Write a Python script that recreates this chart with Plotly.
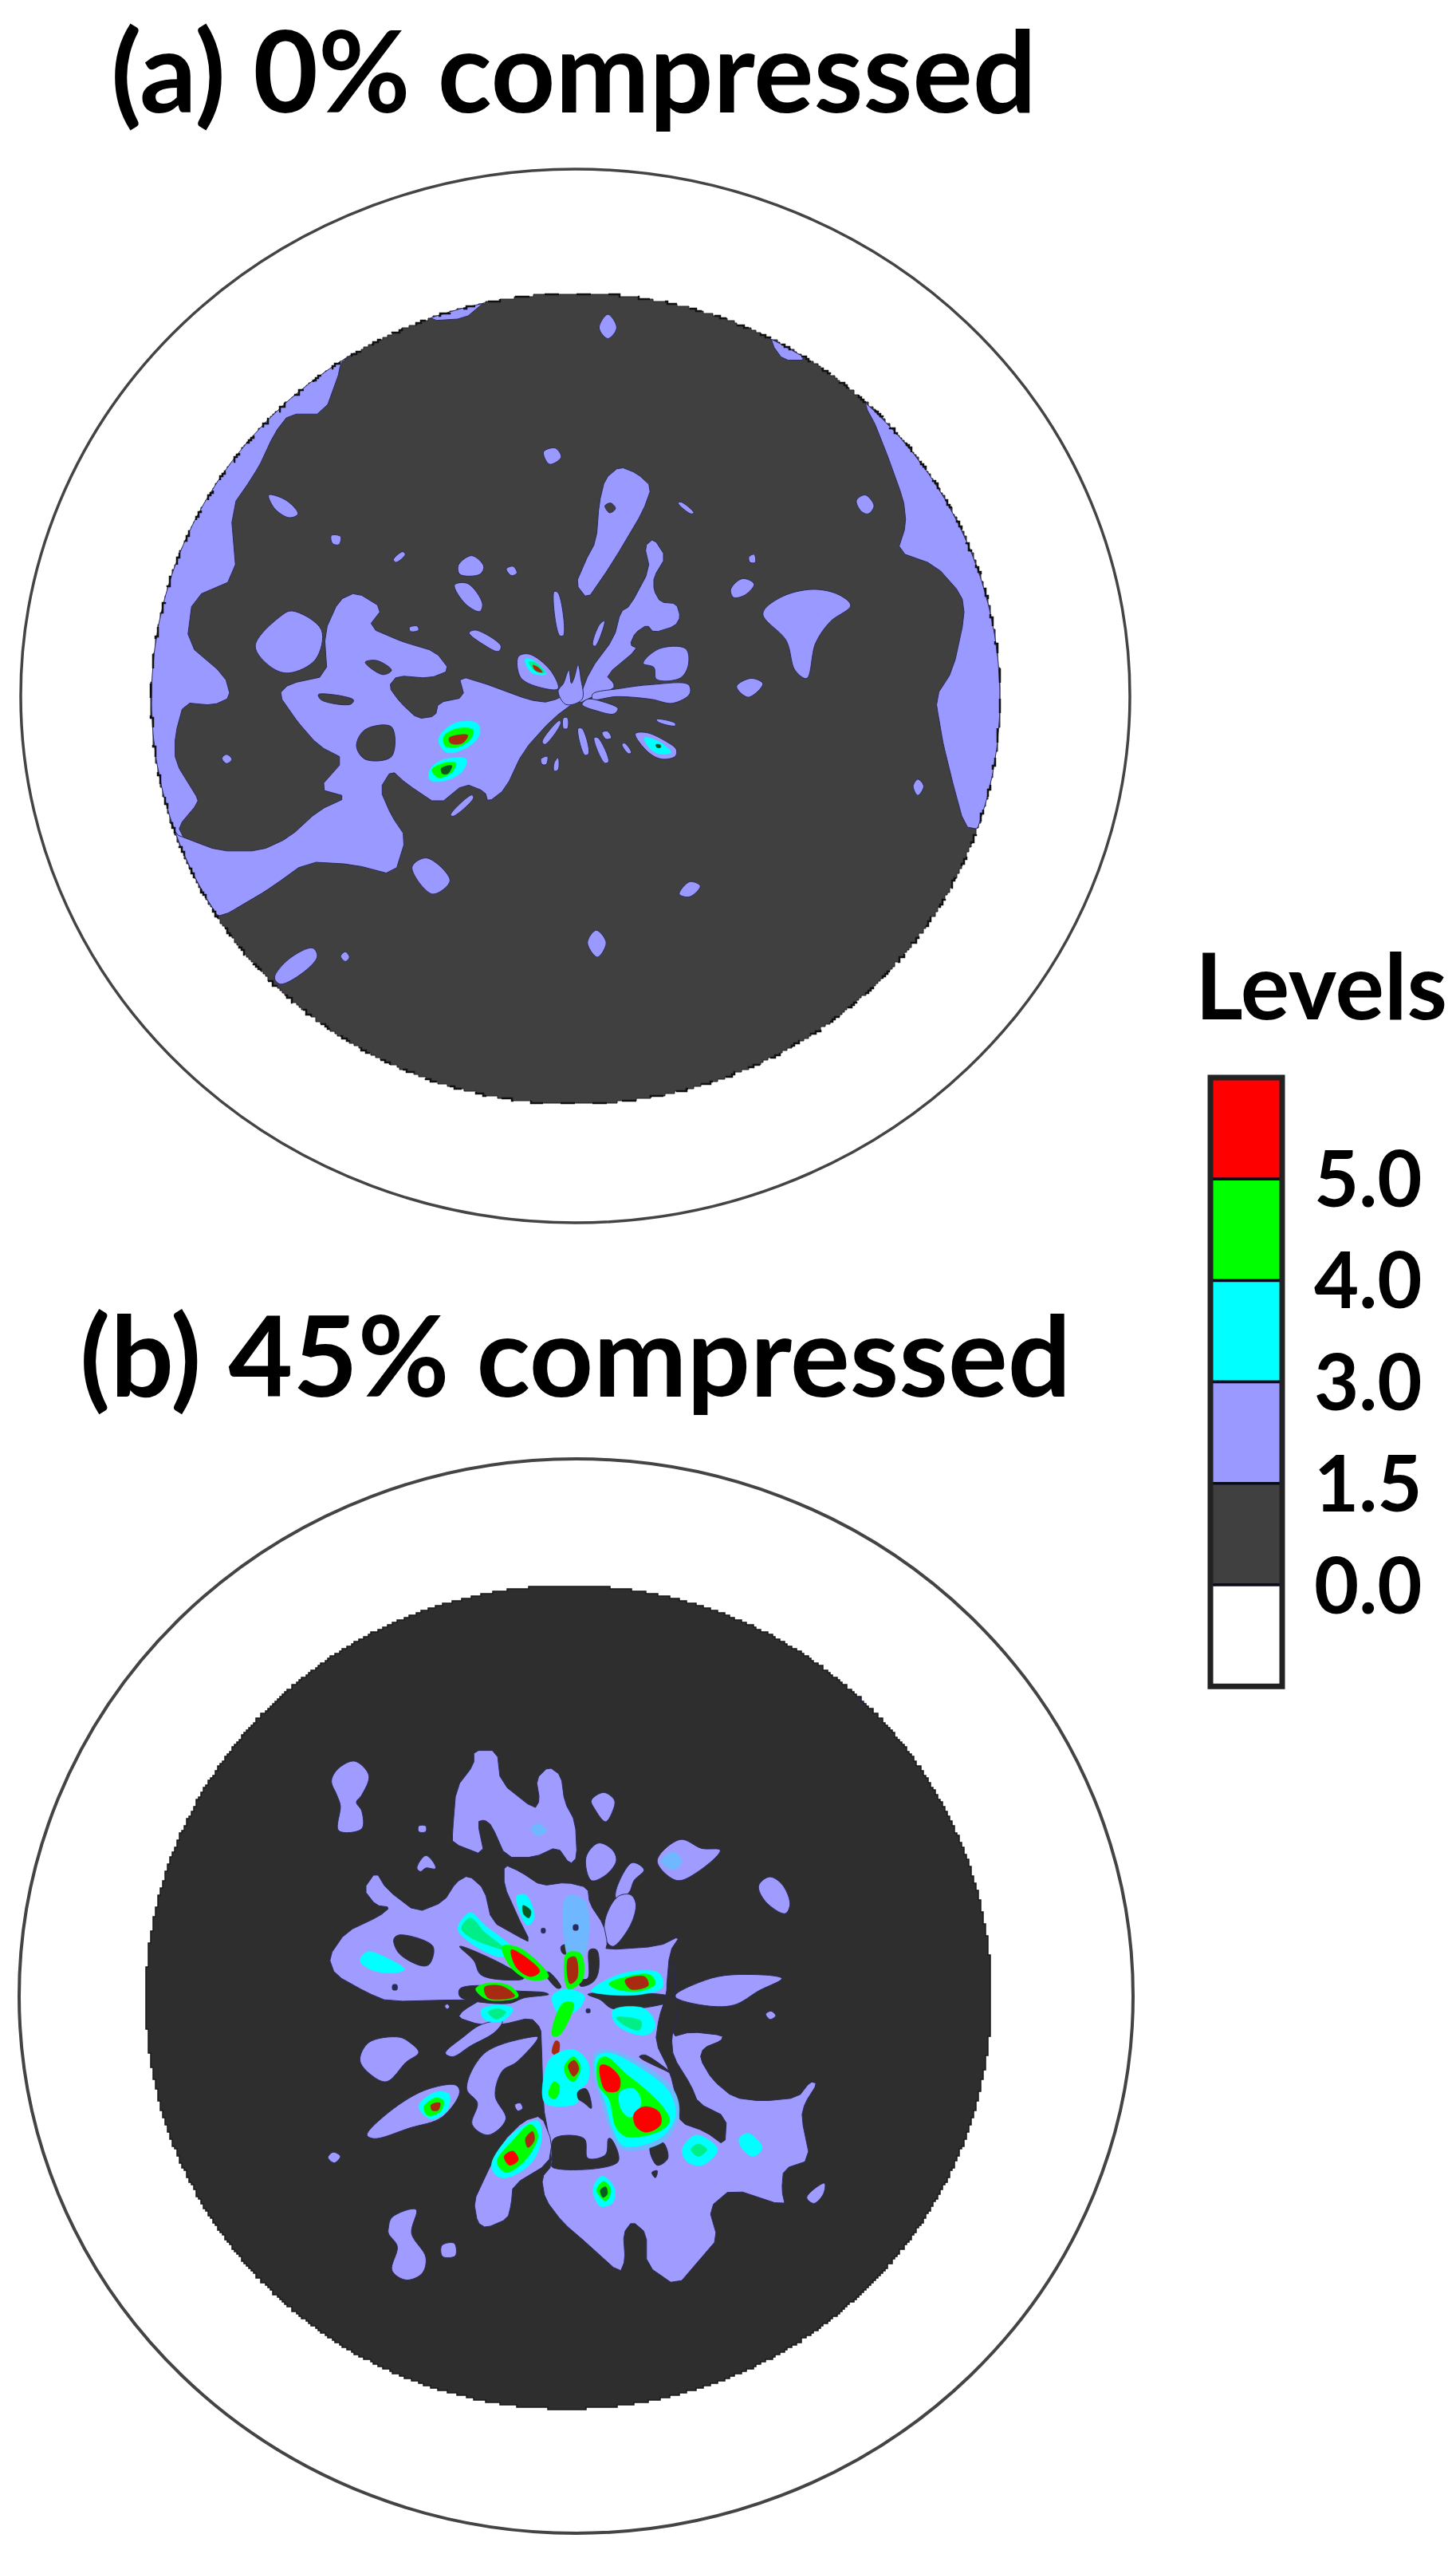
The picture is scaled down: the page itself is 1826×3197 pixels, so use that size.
import math
import plotly.graph_objects as go

# ---------- legend ----------
LEVEL_LABELS = ["5.0", "4.0", "3.0", "1.5", "0.0"]
LEVEL_COLORS = ["#FF0000", "#00FF00", "#00FFFF", "#9999FF", "#404040", "#FFFFFF"]
TITLE_A = "(a) 0% compressed"
TITLE_B = "(b) 45% compressed"
LEGEND_TITLE = "Levels"

LAV = "#9999FF"
LAVB = "#A09CFF"
DARK_A = "#404040"
DARK_B = "#2E2E2E"
CYAN = "#00FFFF"
GREEN = "#00FF00"
SEA = "#00EE88"
RED = "#FF0000"
DRED = "#A82A10"
DGREEN = "#0A5A20"
SOFT = "#6FB8FF"
NAVY = "#2B2B5A"

# ---------- panel (a): contour outlines ----------
A_LAV_1 = [
    [(380,175),(350,265),(290,265),(265,300),(235,370),(190,440),(200,570),(125,605),(115,690),(180,750),(190,790),(160,805),(110,800),(95,860),(95,910),(130,970),(135,985),(100,1030),(110,1050),(170,1200),(100,1200),(-50,1100),(-50,400),(100,150),(380,100)],
    [(790,770),(735,800),(700,795),(640,770),(580,750),(590,790),(545,800),(540,825),(510,830),(480,800),(460,770),(475,750),(530,755),(565,740),(540,705),(490,690),(425,660),(450,625),(405,595),(375,610),(350,670),(355,750),(290,765),(272,785),(300,830),(340,880),(385,905),(340,960),(390,975),(340,1000),(290,1050),(240,1075),(170,1075),(110,1050),(60,1030),(100,1200),(170,1200),(250,1150),(320,1095),(400,1100),(470,1120),(490,1050),(465,1010),(445,960),(465,925),(490,950),(545,990),(590,950),(625,965),(630,985),(660,960),(690,890),(740,830),(790,790)],
    [(530,92),(590,88),(620,62),(620,20),(530,40)],
    [(1115,135),(1135,165),(1175,165),(1170,100),(1115,100)],
    [(1275,250),(1295,290),(1340,420),(1345,470),(1330,520),(1395,545),(1440,600),(1445,640),(1425,740),(1395,790),(1405,860),(1420,930),(1445,1030),(1470,1035),(1600,1030),(1650,700),(1500,300),(1290,200)],
    [(835,80),(850,105),(835,125),(820,105)],
    [(725,335),(745,328),(755,345),(735,358)],
    [(255,415),(285,425),(305,450),(290,457),(265,440)],
    [(362,490),(378,492),(375,507),(364,505)],
    [(855,362),(885,375),(910,400),(895,445),(860,510),(825,570),(800,608),(780,580),(795,540),(815,500),(820,430),(830,385)],
    [(1100,635),(1130,605),(1185,590),(1230,600),(1250,620),(1215,650),(1190,690),(1175,755),(1155,740),(1140,685)],
    [(1045,590),(1065,570),(1085,580),(1070,600),(1050,605)],
    [(1055,770),(1080,755),(1100,765),(1075,790)],
    [(1076,530),(1085,525),(1087,540),(1078,540)],
    [(955,430),(960,428),(982,448),(977,450)],
    [(1260,425),(1275,415),(1290,435),(1280,450),(1268,445)],
    [(1357,955),(1365,942),(1375,955),(1365,972)],
    [(957,1155),(975,1132),(993,1140),(975,1160)],
    [(800,1245),(815,1222),(832,1245),(817,1272)],
    [(500,1105),(525,1088),(565,1130),(535,1155)],
    [(378,1270),(386,1262),(393,1272),(386,1280)],
    [(265,1310),(290,1275),(330,1255),(338,1270),(320,1295),(275,1322)],
    [(175,903),(183,896),(192,905),(183,913)],
    [(232,695),(275,640),(295,630),(345,665),(335,720),(290,745),(260,735)],
]
A_DARK_1 = [
    [(405,880),(420,850),(465,845),(465,900),(420,905)],
    [(420,725),(440,722),(465,740),(450,748)],
    [(340,785),(400,795),(395,803),(345,795)],
    [(830,435),(840,430),(848,440),(838,448)],
]
A_LAV_4 = [
    [(415,430),(440,420),(535,480),(525,500),(470,475)],
    [(360,250),(410,245),(465,320),(455,350),(400,320)],
    [(375,175),(425,140),(470,180),(455,210),(380,210)],
    [(555,190),(580,180),(595,205),(575,215)],
    [(130,155),(165,125),(175,135),(140,165)],
    [(190,410),(220,405),(225,420),(195,425)],
    [(735,275),(750,280),(770,440),(755,440)],
    [(905,400),(925,385),(890,480),(880,475)],
    [(600,520),(640,510),(720,570),(750,640),(700,640),(610,600)],
    [(825,790),(840,790),(865,885),(850,890)],
    [(885,825),(900,825),(940,915),(925,920)],
    [(915,805),(935,800),(950,825),(930,830)],
    [(990,850),(1000,845),(1025,880),(1015,885)],
    [(685,905),(710,895),(705,925),(690,925)],
    [(735,920),(750,900),(750,945),(735,950)],
    [(690,840),(755,760),(760,770),(700,850)],
    [(345,1115),(425,1040),(432,1050),(355,1120)],
    [(1120,755),(1190,770),(1190,780),(1125,765)],
    [(770,750),(785,750),(785,790),(770,790)],
    [(1040,810),(1080,805),(1150,835),(1195,870),(1190,895),(1140,905),(1090,880)],
    [(820,700),(870,570),(960,450),(985,350),(1020,330),(1095,190),(1075,105),(1110,75),(1155,145),(1110,220),(1110,270),(1135,315),(1195,320),(1210,370),(1190,405),(1110,430),(1085,400),(1040,430),(1020,475),(1050,490),(930,590),(960,620),(960,640),(880,670)],
    [(1070,545),(1130,490),(1230,490),(1240,550),(1210,600),(1120,605),(1110,560)],
    [(880,660),(980,640),(1100,625),(1240,625),(1245,660),(1180,695),(1100,680),(970,670),(880,680)],
    [(860,680),(920,690),(975,715),(960,735),(900,725),(840,700)],
    [(750,650),(770,620),(790,570),(800,620),(810,600),(825,550),(835,600),(840,680),(780,700)],
]
A_SPOTS_4 = [
    (CYAN, [(300,830),(360,770),(445,770),(455,810),(410,860),(330,880)]),
    (GREEN, [(320,820),(370,790),(430,795),(420,830),(370,860),(325,855)]),
    (DRED, [(340,825),(410,815),(390,845),(345,845)]),
    (CYAN, [(265,950),(310,910),(405,905),(390,950),(330,985),(270,985)]),
    (GREEN, [(275,945),(320,920),(365,920),(350,955),(300,975)]),
    (DGREEN, [(310,940),(350,930),(335,960),(315,960)]),
    (CYAN, [(1075,825),(1130,840),(1175,880),(1130,885),(1090,860)]),
    (DGREEN, [(1118,850),(1135,852),(1135,862),(1120,860)]),
    (CYAN, [(625,530),(650,530),(705,585),(650,580)]),
    (SEA, [(640,540),(660,540),(700,580),(665,575)]),
    (DRED, [(655,552),(675,560),(690,578),(665,572)]),
]

# ---------- panel (b): contour outlines ----------
B_LAV_2 = [
    [(80,185),(100,150),(145,130),(185,170),(165,225),(150,245),(165,270),(165,320),(100,325),(105,255),(95,225)],
    [(420,330),(430,205),(480,140),(480,100),(545,100),(555,190),(650,265),(665,240),(655,180),(690,145),(725,170),(735,245),(765,300),(770,400),(750,420),(715,370),(650,400),(570,400),(530,310),(510,295),(490,300),(510,395),(420,360)],
    [(810,240),(845,218),(875,240),(870,270),(850,300),(820,265)],
    [(325,312),(345,312),(345,328),(325,328)],
    [(320,430),(345,395),(370,420),(372,432),(345,430),(330,440)],
    [(795,400),(830,360),(870,380),(880,410),(850,450),(810,465)],
    [(880,490),(925,415),(958,435),(930,465),(915,500),(880,515)],
    [(850,570),(885,510),(920,505),(935,530),(920,590),(870,650),(850,630)],
    [(995,410),(1060,350),(1120,375),(1172,380),(1110,440),(1050,465)],
    [(1280,480),(1310,455),(1345,475),(1368,530),(1355,558),(1300,525)],
    [(72,680),(120,610),(215,565),(245,540),(205,535),(170,490),(205,440),(235,490),(320,555),(395,525),(430,470),(465,450),(510,490),(530,580),(600,620),(640,640),(600,560),(565,480),(565,420),(610,440),(670,480),(740,470),(800,485),(805,530),(845,590),(855,640),(850,660),(1000,650),(1060,620),(1030,665),(1020,780),(1035,905),(1090,890),(1180,900),(1175,915),(1125,935),(1115,965),(1150,1025),(1210,1075),(1290,1085),(1390,1075),(1425,1030),(1445,1035),(1410,1090),(1400,1130),(1425,1250),(1350,1275),(1345,1335),(1355,1380),(1205,1330),(1140,1385),(1165,1471),(1120,1523),(1050,1605),(965,1546),(965,1456),(925,1422),(900,1456),(905,1531),(890,1568),(800,1486),(730,1426),(680,1360),(670,1300),(700,1265),(690,1180),(675,1100),(670,920),(668,880),(640,850),(560,870),(495,870),(435,850),(450,830),(500,800),(440,800),(240,805),(180,780),(90,730)],
    [(400,950),(450,905),(500,870),(560,860),(540,890),(470,930),(420,960)],
    [(510,950),(640,905),(660,905),(600,975),(560,1000),(540,1070),(570,1135),(520,1180),(475,1150),(490,1090),(460,1050)],
    [(480,1366),(510,1300),(560,1200),(620,1140),(670,1125),(700,1200),(690,1260),(590,1320),(585,1374),(575,1415),(515,1441),(490,1426)],
    [(1045,790),(1130,745),(1205,730),(1345,740),(1280,775),(1210,815),(1120,815)],
    [(1300,840),(1315,832),(1328,845),(1312,855)],
    [(398,818),(405,812),(412,820),(405,826)],
    [(595,1095),(610,1090),(617,1105),(603,1112)],
    [(160,970),(185,920),(270,905),(300,920),(325,948),(290,975),(235,1030),(190,1010)],
    [(180,1180),(230,1125),(340,1055),(430,1040),(440,1060),(390,1130),(300,1160),(200,1190)],
    [(70,1243),(85,1228),(105,1240),(88,1258)],
    [(390,1490),(425,1484),(428,1519),(392,1521)],
    [(240,1441),(250,1411),(318,1389),(305,1456),(345,1523),(335,1568),(290,1587),(250,1560),(265,1493),(240,1456)],
    [(1415,1355),(1465,1315),(1462,1345),(1435,1372)],
    [(1770,-250),(1790,-290),(1800,-250),(1790,-230)],
    [(1570,-60),(1590,-90),(1600,-60),(1585,-40)],
]
B_DARK_2 = [
    [(255,630),(270,618),(365,650),(355,700),(335,705),(270,670)],
    [(440,650),(560,700),(620,740),(590,745),(500,730),(480,690)],
    [(440,770),(490,760),(600,775),(680,780),(690,785),(620,795),(580,810),(460,800),(440,790)],
    [(680,725),(690,722),(725,765),(715,768)],
    [(725,650),(750,645),(755,670),(730,670)],
    [(775,745),(800,740),(805,660),(825,660),(830,720),(815,750),(780,762)],
    [(800,785),(850,780),(1030,790),(1040,800),(1000,815),(870,825),(835,800)],
    [(1030,700),(1045,700),(1045,790),(1050,860),(1035,905),(1040,960),(1090,1040),(1110,1090),(1190,1130),(1185,1210),(1130,1170),(1060,1145),(1055,1100),(1030,1000),(990,920),(1000,850),(1020,790)],
    [(945,960),(960,955),(1040,1010),(1020,1000)],
    [(770,1060),(795,1050),(810,1105),(790,1090),(770,1075)],
    [(705,1190),(790,1190),(800,1245),(850,1235),(858,1190),(865,1190),(885,1255),(700,1270),(700,1250)],
    [(975,1215),(1010,1200),(1025,1245),(995,1265)],
    [(980,1285),(995,1280),(990,1300)],
]
B_SPOTS_2 = [
    (SOFT, [(740,510),(790,520),(800,640),(760,720),(735,640)]),
    (SOFT, [(640,320),(660,305),(685,325),(660,340)]),
    (SOFT, [(1005,410),(1040,385),(1065,410),(1040,435)]),
    (CYAN, [(160,690),(180,665),(230,680),(285,715),(250,725),(190,715)]),
    (CYAN, [(600,510),(625,505),(650,570),(630,590)]),
    (DGREEN, [(618,535),(640,550),(635,570),(620,560)]),
    (CYAN, [(435,600),(470,555),(510,590),(590,660),(560,680),(470,640)]),
    (SEA, [(445,600),(470,570),(510,610),(570,660),(530,650),(470,625)]),
    (GREEN, [(560,650),(610,655),(690,735),(640,745),(585,710)]),
    (RED, [(585,660),(610,670),(665,720),(640,735),(600,710)]),
    (CYAN, [(700,790),(740,770),(790,790),(770,830),(720,840)]),
    (GREEN, [(740,670),(780,670),(785,745),(745,770)]),
    (DRED, [(745,685),(765,680),(770,740),(750,755)]),
    (CYAN, [(810,775),(900,725),(1000,725),(1010,765),(950,785),(850,785)]),
    (GREEN, [(860,755),(910,735),(975,730),(990,755),(950,775),(880,770)]),
    (DRED, [(905,745),(960,735),(970,760),(920,770)]),
    (GREEN, [(485,770),(510,755),(580,760),(605,790),(520,800)]),
    (DRED, [(510,765),(560,762),(595,790),(520,795)]),
    (CYAN, [(500,830),(540,815),(590,825),(560,860),(510,855)]),
    (SEA, [(520,835),(545,825),(570,835),(545,855)]),
    (CYAN, [(870,830),(960,825),(990,875),(960,900),(880,870)]),
    (SEA, [(880,850),(950,860),(945,885),(900,870)]),
    (GREEN, [(730,810),(760,810),(720,900),(700,900)]),
    (DRED, [(700,950),(710,915),(720,920),(715,955)]),
    (CYAN, [(680,1000),(700,960),(760,940),(800,975),(800,1030),(770,1060),(770,1090),(680,1090)]),
    (GREEN, [(735,985),(760,960),(780,990),(760,1030),(740,1015)]),
    (DRED, [(745,985),(762,970),(775,995),(760,1015)]),
    (GREEN, [(690,1060),(705,1030),(720,1040),(712,1075),(695,1075)]),
    (SOFT, [(820,950),(860,940),(970,990),(1045,1060),(1055,1130),(1010,1200),(895,1220),(860,1160),(840,1090),(818,1020)]),
    (CYAN, [(825,960),(860,950),(960,1000),(1030,1060),(1045,1130),(1000,1190),(900,1210),(870,1160),(850,1090),(825,1020)]),
    (GREEN, [(830,970),(850,960),(910,1010),(960,1050),(1010,1100),(1030,1140),(1000,1170),(910,1185),(880,1160),(860,1080),(830,1040)]),
    (CYAN, [(890,1060),(930,1050),(950,1090),(920,1130),(895,1110)]),
    (RED, [(835,985),(855,985),(890,1020),(885,1055),(850,1055)]),
    (RED, [(930,1120),(960,1100),(1000,1115),(1005,1150),(965,1172),(935,1155)]),
    (CYAN, [(325,1100),(370,1060),(410,1065),(405,1110),(360,1135)]),
    (GREEN, [(340,1100),(375,1075),(395,1085),(385,1115),(350,1125)]),
    (DRED, [(360,1095),(385,1090),(380,1110),(362,1110)]),
    (CYAN, [(530,1260),(590,1175),(660,1140),(670,1190),(640,1260),(570,1300),(540,1290)]),
    (GREEN, [(545,1255),(590,1195),(640,1150),(660,1180),(625,1250),(570,1285)]),
    (RED, [(565,1240),(590,1225),(605,1250),(580,1265)]),
    (DRED, [(625,1190),(645,1170),(650,1195),(632,1215)]),
    (CYAN, [(815,1330),(840,1295),(875,1330),(870,1370),(835,1380)]),
    (GREEN, [(825,1335),(845,1310),(865,1335),(850,1365)]),
    (DGREEN, [(835,1335),(850,1325),(855,1345),(843,1355)]),
    (CYAN, [(1065,1220),(1105,1180),(1165,1220),(1120,1265),(1080,1255)]),
    (SEA, [(1090,1220),(1110,1205),(1135,1220),(1110,1240)]),
    (CYAN, [(1225,1190),(1250,1175),(1290,1215),(1265,1240),(1235,1220)]),
    (NAVY, [(670,600),(680,600),(680,612),(670,612)]),
    (NAVY, [(760,590),(772,590),(772,604),(760,604)]),
    (NAVY, [(796,826),(806,826),(806,836),(796,836)]),
    (NAVY, [(252,758),(264,758),(264,772),(252,772)]),
]

# ---------- geometry of the two pole figures (page pixels) ----------
OUTER_A = (721.5, 872.5, 695.5, 660.5)
DISK_A = (722.0, 876.0, 532.0, 508.0)
OUTER_B = (722.5, 2502.5, 698.5, 673.5)
DISK_B = (713.0, 2504.0, 530.0, 516.0)


def frame(x0, y0, sx, sy):
    return lambda pts: [(x0 + x / sx, y0 + y / sy) for x, y in pts]


F1 = frame(150, 340, 1.3635, 1.479)
F4 = frame(450, 650, 3.0, 3.0)
F2 = frame(380, 2150, 2.24, 2.24)


def chaikin(pts, n=1):
    for _ in range(n):
        out = []
        for (a, b), (c, d) in zip(pts, pts[1:] + pts[:1]):
            out.append((0.8 * a + 0.2 * c, 0.8 * b + 0.2 * d))
            out.append((0.2 * a + 0.8 * c, 0.2 * b + 0.8 * d))
        pts = out
    return pts


def outside(pts, disk):
    cx, cy, rx, ry = disk
    return any(((x - cx) / rx) ** 2 + ((y - cy) / ry) ** 2 > 1 for x, y in pts)


def clamp(pts, disk):
    cx, cy, rx, ry = disk
    dense = []
    for (a, b), (c, d) in zip(pts, pts[1:] + pts[:1]):
        n = max(1, int(math.hypot(c - a, d - b) / 8))
        for i in range(n):
            dense.append((a + (c - a) * i / n, b + (d - b) * i / n))
    out = []
    for x, y in dense:
        r = math.hypot((x - cx) / rx, (y - cy) / ry)
        if r > 1:
            x, y = cx + (x - cx) / r, cy + (y - cy) / r
        out.append((x, y))
    return out


fig = go.Figure()


def poly(pts, color, outline=None, disk=None):
    if len(pts) >= 12 or (disk and outside(pts, disk)):
        pts = chaikin(list(pts), 1)
        shape = "linear"
    else:
        shape = "spline"
    if disk and outside(pts, disk):
        pts = clamp(pts, disk)
    pts = list(pts) + [pts[0]]
    fig.add_trace(go.Scatter(
        x=[p[0] for p in pts], y=[p[1] for p in pts], mode="lines", fill="toself",
        fillcolor=color, hoverinfo="skip", showlegend=False,
        line=dict(color=outline or color, width=1.0 if outline else 0.5, shape=shape, smoothing=1.0),
    ))


for p in A_LAV_1:
    poly(F1(p), LAV, NAVY, DISK_A)
for p in A_DARK_1:
    poly(F1(p), DARK_A, NAVY)
for p in A_LAV_4:
    poly(F4(p), LAV, NAVY)
for color, p in A_SPOTS_4:
    poly(F4(p), color)

for p in B_LAV_2:
    poly(F2(p), LAVB, NAVY, DISK_B)
for p in B_DARK_2:
    poly(F2(p), DARK_B, NAVY)
for color, p in B_SPOTS_2:
    poly(F2(p), color)


def stair_path(e, step):
    """Ellipse outline snapped to a coarse raster, as the stepped rim of the plotted disk."""
    cx, cy, rx, ry = e
    pts = []
    n = int(2 * math.pi * max(rx, ry) / step)
    for i in range(n):
        t = 2 * math.pi * i / n
        x = round((cx + rx * math.cos(t)) / step) * step
        y = round((cy + ry * math.sin(t)) / step) * step
        if pts:
            pts.append((x, pts[-1][1]))
        pts.append((x, y))
    return "M " + " L ".join(f"{x} {y}" for x, y in pts) + " Z"


def ellipse(e, **kw):
    cx, cy, rx, ry = e
    return dict(type="circle", xref="x", yref="y", x0=cx - rx, x1=cx + rx, y0=cy - ry, y1=cy + ry, **kw)


shapes = [
    dict(type="path", xref="x", yref="y", path=stair_path(DISK_A, 3), fillcolor=DARK_A,
         line=dict(width=1, color="#222222"), layer="below"),
    dict(type="path", xref="x", yref="y", path=stair_path(DISK_B, 3), fillcolor=DARK_B,
         line=dict(width=1.5, color="#1a1a1a"), layer="below"),
    dict(type="path", xref="x", yref="y", path=stair_path(DISK_A, 3),
         line=dict(width=2.5, color="#111111", dash="18px,22px"), layer="above"),
    ellipse(OUTER_A, line=dict(color="#444444", width=3.5), layer="above"),
    ellipse(OUTER_B, line=dict(color="#444444", width=4), layer="above"),
]

# legend column
LEG_X0, LEG_X1, LEG_Y0, LEG_ROW = 1518, 1608, 1351, 127.2
for i, c in enumerate(LEVEL_COLORS):
    shapes.append(dict(type="rect", xref="x", yref="y", x0=LEG_X0, x1=LEG_X1,
                       y0=LEG_Y0 + i * LEG_ROW, y1=LEG_Y0 + (i + 1) * LEG_ROW,
                       fillcolor=c, line=dict(color="#0a0a1e", width=3.5), layer="above"))
shapes.append(dict(type="rect", xref="x", yref="y", x0=LEG_X0, x1=LEG_X1, y0=LEG_Y0,
                   y1=LEG_Y0 + 6 * LEG_ROW, line=dict(color="#222222", width=7), layer="above"))

annots = [
    dict(text=TITLE_A, x=719, y=86, size=141),
    dict(text=TITLE_B, x=721, y=1697, size=140),
    dict(text=LEGEND_TITLE, x=1657, y=1233, size=115),
]
for i, lab in enumerate(LEVEL_LABELS):
    annots.append(dict(text=lab, x=1716, y=1475 + i * 127.6, size=97))

fig.update_layout(
    width=1826, height=3197, margin=dict(l=0, r=0, t=0, b=0),
    paper_bgcolor="white", plot_bgcolor="white", shapes=shapes,
    xaxis=dict(range=[0, 1826], visible=False, fixedrange=True),
    yaxis=dict(range=[3197, 0], visible=False, fixedrange=True),
    annotations=[dict(text=a["text"], x=a["x"], y=a["y"], xref="x", yref="y", xanchor="center",
                      yanchor="middle", showarrow=False,
                      font=dict(family="Lato", size=a["size"], color="black", weight=700))
                 for a in annots],
)
fig.write_html("out.html", config=dict(displayModeBar=False),
               post_script="document.body.style.margin='0';document.documentElement.style.overflow='hidden';")
